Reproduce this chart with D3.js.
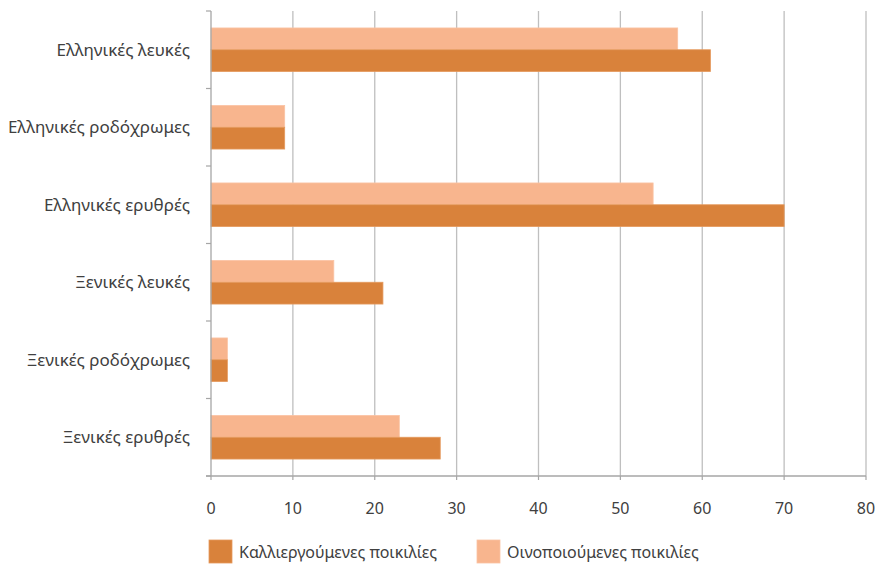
<!DOCTYPE html>
<html><head><meta charset="utf-8">
<script src="https://cdn.jsdelivr.net/npm/d3@7"></script>
<style>body{margin:0;background:#fff}svg text{font-family:"Noto Sans",sans-serif}</style>
</head><body>
<svg id="c" width="875" height="565"></svg>
<script>
const categories = ["Ελληνικές λευκές","Ελληνικές ροδόχρωμες","Ελληνικές ερυθρές","Ξενικές λευκές","Ξενικές ροδόχρωμες","Ξενικές ερυθρές"];
const seriesNames = ["Καλλιεργούμενες ποικιλίες","Οινοποιούμενες ποικιλίες"];
const cultivated = [61, 9, 70, 21, 2, 28];
const vinified = [57, 9, 54, 15, 2, 23];
const xTicks = [0,10,20,30,40,50,60,70,80];
const colors = ["#D9823B","#F8B58E"];

const svg = d3.select("#c");
const L=211, R=866, T=11, B=476;
const x = d3.scaleLinear().domain([0,80]).range([L,R]);
const y = d3.scaleBand().domain(categories).range([T,B]).padding(0);
const y1 = d3.scaleBand().domain(["v","c"]).range([0,y.bandwidth()]).paddingInner(0).paddingOuter(0.778);

// gridlines
svg.append("g").selectAll("line").data(xTicks.slice(1)).join("line")
  .attr("x1",d=>x(d)).attr("x2",d=>x(d)).attr("y1",T).attr("y2",B)
  .attr("stroke","#BFBFBF").attr("stroke-width",1.3);

// bars
const g = svg.append("g");
categories.forEach((c,i)=>{
  g.append("rect").attr("x",x(0)).attr("y",y(c)+y1("v")).attr("width",x(vinified[i])-x(0)).attr("height",y1.bandwidth())
    .attr("fill",colors[1]).attr("stroke","#FAC3A3").attr("stroke-width",0.8);
  g.append("rect").attr("x",x(0)).attr("y",y(c)+y1("c")).attr("width",x(cultivated[i])-x(0)).attr("height",y1.bandwidth())
    .attr("fill",colors[0]).attr("stroke","#E59A5E").attr("stroke-width",0.8);
});

// left axis
const yBounds = categories.map(c=>y(c)).concat([B]);
svg.append("line").attr("x1",L).attr("x2",L).attr("y1",T).attr("y2",B).attr("stroke","#A6A6A6").attr("stroke-width",1.3);
svg.append("g").selectAll("line").data(yBounds).join("line")
  .attr("x1",L-5).attr("x2",L).attr("y1",d=>d).attr("y2",d=>d).attr("stroke","#A6A6A6").attr("stroke-width",1.2);
svg.append("g").selectAll("text").data(categories).join("text")
  .attr("x",190).attr("y",d=>y(d)+y.bandwidth()/2).attr("dy","0.35em")
  .attr("text-anchor","end").attr("font-size",17).attr("fill","#404040").text(d=>d);

// bottom axis
svg.append("line").attr("x1",L-5).attr("x2",R).attr("y1",B).attr("y2",B).attr("stroke","#A6A6A6").attr("stroke-width",1.3);
svg.append("g").selectAll("line").data(xTicks).join("line")
  .attr("x1",d=>x(d)).attr("x2",d=>x(d)).attr("y1",B).attr("y2",B+4).attr("stroke","#A6A6A6").attr("stroke-width",1.2);
svg.append("g").selectAll("text").data(xTicks).join("text")
  .attr("x",d=>x(d)).attr("y",508).attr("dy","0.35em").attr("text-anchor","middle")
  .attr("font-size",16).attr("fill","#404040").text(d=>d);

// legend
const legX = [209, 477];
seriesNames.forEach((n,i)=>{
  svg.append("rect").attr("x",legX[i]).attr("y",540).attr("width",23).attr("height",23)
    .attr("fill",colors[i]).attr("stroke",i? "#FAC3A3":"#E59A5E").attr("stroke-width",0.8);
  svg.append("text").attr("x",legX[i]+30).attr("y",552).attr("dy","0.35em").attr("font-size",16)
    .attr("fill","#404040").text(n);
});
</script>
</body></html>
